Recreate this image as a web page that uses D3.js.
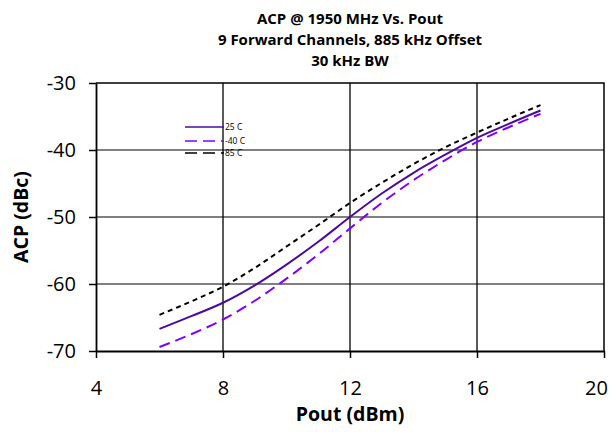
<!DOCTYPE html>
<html>
<head>
<meta charset="utf-8">
<script src="https://cdn.jsdelivr.net/npm/d3@7"></script>
<style>
  body { margin: 0; background: #fff; }
  text { font-family: "Open Sans", "DejaVu Sans", sans-serif; fill: #000; }
</style>
</head>
<body>
<div id="chart"></div>
<script>
var width = 610;
var height = 432;
var margin = { top: 83, right: 6, bottom: 81, left: 96 };

// data
var pout = [6, 7, 8, 9, 10, 11, 12, 13, 14, 15, 16, 17, 18];
var acp25 = [-66.7, -64.8, -62.8, -60.2, -57.1, -53.7, -50, -46.5, -43.4, -40.7, -38.2, -36.1, -34.1];
var acpMinus40 = [-69.4, -67.5, -65.3, -62.5, -59.2, -55.6, -51.7, -47.9, -44.5, -41.5, -38.8, -36.6, -34.6];
var acp85 = [-64.6, -62.6, -60.4, -57.6, -54.4, -51.2, -47.9, -44.9, -42.1, -39.6, -37.4, -35.3, -33.3];
var xTicks = [4, 8, 12, 16, 20];
var yTicks = [-30, -40, -50, -60, -70];
var titleLines = ['ACP @ 1950 MHz Vs. Pout', '9 Forward Channels, 885 kHz Offset', '30 kHz BW'];

var series = [
  { name: '25 C', values: acp25, color: '#4a0ca0', dash: null },
  { name: '-40 C', values: acpMinus40, color: '#8000ff', dash: '11,6' },
  { name: '85 C', values: acp85, color: '#000', dash: '5,4' }
];

var svg = d3.select('#chart')
  .append('svg')
  .attr('width', width)
  .attr('height', height);

var x = d3.scaleLinear()
  .domain([4, 20])
  .range([margin.left, width - margin.right]);
var y = d3.scaleLinear()
  .domain([-70, -30])
  .range([height - margin.bottom, margin.top]);

// gridlines
svg.append('g')
  .selectAll('line')
  .data(yTicks.slice(1, 4))
  .enter()
  .append('line')
  .attr('x1', x(4)).attr('x2', x(20))
  .attr('y1', function(d) { return y(d); })
  .attr('y2', function(d) { return y(d); })
  .attr('stroke', '#555')
  .attr('stroke-width', 1.5);
svg.append('g')
  .selectAll('line')
  .data(xTicks.slice(1, 4))
  .enter()
  .append('line')
  .attr('y1', y(-70)).attr('y2', y(-30))
  .attr('x1', function(d) { return x(d); })
  .attr('x2', function(d) { return x(d); })
  .attr('stroke', '#000')
  .attr('stroke-width', 1.3);

// frame top / right
svg.append('path')
  .attr('d', 'M' + x(4) + ',' + y(-30) + 'H' + x(20) + 'V' + y(-70))
  .attr('fill', 'none')
  .attr('stroke', '#000')
  .attr('stroke-width', 1.5);

// axes
var xAxis = svg.append('g')
  .attr('transform', 'translate(0,' + y(-70) + ')')
  .call(d3.axisBottom(x).tickValues(xTicks).tickFormat(String)
    .tickSizeInner(7).tickSizeOuter(0).tickPadding(23));
var yAxis = svg.append('g')
  .attr('transform', 'translate(' + x(4) + ',0)')
  .call(d3.axisLeft(y).tickValues(yTicks).tickFormat(String)
    .tickSizeInner(7).tickSizeOuter(0).tickPadding(13));
[xAxis, yAxis].forEach(function(a) {
  a.select('.domain').attr('stroke', '#000').attr('stroke-width', 1.8);
  a.selectAll('.tick line').attr('stroke', '#000').attr('stroke-width', 1.5);
  a.selectAll('.tick text')
    .style('font-family', '"Open Sans", sans-serif')
    .style('font-size', '20px')
    .attr('fill', '#000');
});
// last x label sits a bit inside the right edge
xAxis.selectAll('.tick text')
  .filter(function(d) { return d === 20; })
  .attr('dx', -8);

// curves
var line = d3.line()
  .x(function(d) { return x(d[0]); })
  .y(function(d) { return y(d[1]); })
  .curve(d3.curveMonotoneX);

svg.append('g')
  .selectAll('path')
  .data(series)
  .enter()
  .append('path')
  .attr('d', function(s) { return line(d3.zip(pout, s.values)); })
  .attr('fill', 'none')
  .attr('stroke', function(s) { return s.color; })
  .attr('stroke-width', 2)
  .attr('stroke-dasharray', function(s) { return s.dash; });

// legend
var legend = svg.append('g')
  .attr('transform', 'translate(185,127)');
var item = legend.selectAll('g')
  .data(series)
  .enter()
  .append('g')
  .attr('transform', function(d, i) { return 'translate(0,' + [0, 14, 26][i] + ')'; });
item.append('line')
  .attr('x1', 0).attr('x2', 39)
  .attr('stroke', function(d) { return d.color; })
  .attr('stroke-width', 1.6)
  .attr('stroke-dasharray', function(d) { return d.dash ? '12,6' : null; });
item.append('text')
  .attr('x', 40)
  .attr('dy', '0.35em')
  .style('font-size', '8.5px')
  .text(function(d) { return d.name; });

// title
svg.append('g')
  .selectAll('text')
  .data(titleLines)
  .enter()
  .append('text')
  .attr('x', (x(4) + x(20)) / 2)
  .attr('y', function(d, i) { return 24 + i * 21; })
  .attr('text-anchor', 'middle')
  .style('font-size', '15px')
  .style('font-weight', 'bold')
  .text(function(d) { return d; });

// axis titles
svg.append('text')
  .attr('x', (x(4) + x(20)) / 2)
  .attr('y', 421)
  .attr('text-anchor', 'middle')
  .style('font-size', '19.5px')
  .style('font-weight', 'bold')
  .text('Pout (dBm)');
svg.append('text')
  .attr('transform', 'translate(28,' + y(-50) + ') rotate(-90)')
  .attr('text-anchor', 'middle')
  .style('font-size', '19.5px')
  .style('font-weight', 'bold')
  .text('ACP (dBc)');
</script>
</body>
</html>
